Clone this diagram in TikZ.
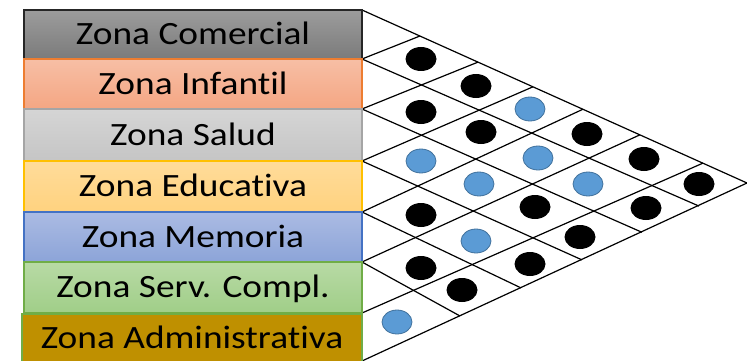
\documentclass[tikz,border=0pt]{standalone}
\usepackage{fontspec}
\setmainfont{Carlito}[FakeStretch=1.15,Ligatures=NoCommon]
\usetikzlibrary{shapes.geometric}
\definecolor{comT}{HTML}{9C9C9C}\definecolor{comB}{HTML}{7B7B7B}\definecolor{comD}{HTML}{262626}
\definecolor{infT}{HTML}{F7BFA5}\definecolor{infB}{HTML}{F4A683}\definecolor{infD}{HTML}{ED7D31}
\definecolor{salT}{HTML}{D5D5D5}\definecolor{salB}{HTML}{C5C5C5}\definecolor{salD}{HTML}{A5A5A5}
\definecolor{eduT}{HTML}{FFDC9A}\definecolor{eduB}{HTML}{FFD27F}\definecolor{eduD}{HTML}{FFC000}
\definecolor{memT}{HTML}{ABBBE3}\definecolor{memB}{HTML}{8CA4D8}\definecolor{memD}{HTML}{4472C4}
\definecolor{serT}{HTML}{B8DAA5}\definecolor{serB}{HTML}{A0CE88}\definecolor{serD}{HTML}{70AD47}
\definecolor{admF}{HTML}{BF9000}
\definecolor{dotblue}{HTML}{5B9BD5}\definecolor{dotedge}{HTML}{41719C}
\begin{document}
\begin{tikzpicture}[x=1pt,y=-1pt,
  gridline/.style={line width=1.2pt, black},
  zonebox/.style={rectangle, line width=1.2pt, inner sep=0pt, minimum width=338pt,
    text height=26pt, text depth=6pt, font=\fontsize{32.5}{38}\selectfont},
  blk/.style={ellipse, fill=black, inner sep=0pt, minimum width=31pt, minimum height=24pt},
  blu/.style={ellipse, fill=dotblue, draw=dotedge, line width=0.8pt, inner sep=0pt, minimum width=30pt, minimum height=24pt}]
\useasboundingbox (0,0) rectangle (747,361);
% left boundary points
\coordinate (b0) at (362,10);
\coordinate (b1) at (362,59);
\coordinate (b2) at (362,109);
\coordinate (b3) at (362,161);
\coordinate (b4) at (362,212);
\coordinate (b5) at (362,262);
\coordinate (b6) at (362,313);
\coordinate (b7) at (362,361);
\coordinate (apex) at (747,183);
% ends on bottom line
\coordinate (d1) at (699,206.1);
\coordinate (d2) at (642,232.3);
\coordinate (d3) at (582,259.9);
\coordinate (d4) at (521,287.9);
\coordinate (d5) at (460,316);
% ends on top line
\coordinate (u1) at (420,36);
\coordinate (u2) at (478,62.1);
\coordinate (u3) at (533,86.8);
\coordinate (u4) at (583,109.2);
\coordinate (u5) at (640,134.8);
\coordinate (u6) at (703,163.1);
\draw[gridline] (b0) -- (apex) -- (b7);
\foreach \k in {1,...,5} \draw[gridline] (b\k) -- (d\k);
\foreach \k in {1,...,6} \draw[gridline] (b\k) -- (u\k);
% zone boxes
\node[zonebox, top color=comT, bottom color=comB, draw=comD, minimum height=49pt] (z1) at (193,34.5) {Zona Comercial};
\node[zonebox, top color=infT, bottom color=infB, draw=infD, minimum height=50pt] (z2) at (193,84) {Zona Infantil};
\node[zonebox, top color=salT, bottom color=salB, draw=salD, minimum height=52pt] (z3) at (193,135) {Zona Salud};
\node[zonebox, top color=eduT, bottom color=eduB, draw=eduD, minimum height=51pt] (z4) at (193,186.5) {Zona Educativa};
\node[zonebox, top color=memT, bottom color=memB, draw=memD, minimum height=50pt] (z5) at (193,237) {Zona Memoria};
\node[zonebox, top color=serT, bottom color=serB, draw=serD, minimum height=51pt] (z6) at (193,287.5) {Zona Serv. Compl.};
\node[zonebox, fill=admF, draw=serD, minimum width=340pt, minimum height=48pt] (z7) at (192,338) {Zona Administrativa};
% relation dots
\node[blk] (r12) at (421,59) {};
\node[blk] (r13) at (476,86) {};
\node[blk] (r23) at (421,112) {};
\node[blu] (r14) at (530,109) {};
\node[blk] (r24) at (481,132) {};
\node[blk] (r15) at (587,134) {};
\node[blu] (r34) at (421,161) {};
\node[blu] (r25) at (538,158) {};
\node[blk] (r16) at (644,159) {};
\node[blu] (r35) at (479,184) {};
\node[blu] (r26) at (588,184) {};
\node[blk] (r17) at (699,184) {};
\node[blk] (r45) at (421,215) {};
\node[blk] (r36) at (535,207) {};
\node[blk] (r27) at (646,208) {};
\node[blu] (r46) at (476,241) {};
\node[blk] (r37) at (580,237) {};
\node[blk] (r56) at (421,268) {};
\node[blk] (r47) at (530,264) {};
\node[blk] (r57) at (462,290) {};
\node[blu] (r67) at (397,322) {};
\end{tikzpicture}
\end{document}
